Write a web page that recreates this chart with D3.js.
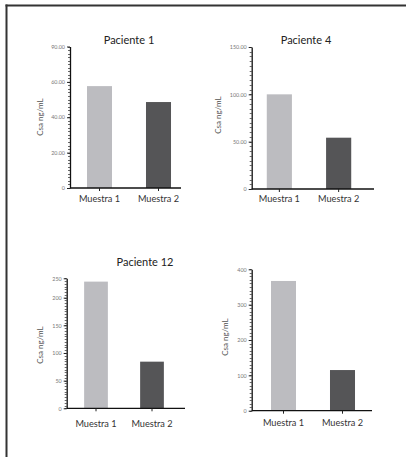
<!DOCTYPE html>
<html><head><meta charset="utf-8">
<script src="https://cdn.jsdelivr.net/npm/d3@7"></script>
<style>html,body{margin:0;padding:0;background:#fff;}svg{display:block;}</style>
</head><body>
<script>
// ---- data ----
const categories = ["Muestra 1", "Muestra 2"];
const titles = ["Paciente 1", "Paciente 4", "Paciente 12", ""];
const yAxisTitle = "Csa ng/mL";
const values1 = [57.6, 48.6];
const values4 = [100, 54.2];
const values12 = [229, 84.3];
const valuesD = [367, 115];
const domainMax = [80, 150, 235, 400];
const ticks1 = [0, 20, 40, 60, 80];
const tickLabels1 = ["0", "20.00", "40.00", "60.00", "90.00"];
const ticks4 = [0, 50, 100, 150];
const tickLabels4 = ["0", "50.00", "100.00", "150.00"];
const ticks12 = [0, 50, 100, 150, 200, 235];
const tickLabels12 = ["0", "50", "100", "150", "200", "250"];
const ticksD = [0, 100, 200, 300, 400];
const tickLabelsD = ["0", "100", "200", "300", "400"];
const minorStep = [2, 5, 5, 10];

const allValues = [values1, values4, values12, valuesD];
const allTicks = [ticks1, ticks4, ticks12, ticksD];
const allTickLabels = [tickLabels1, tickLabels4, tickLabels12, tickLabelsD];

// ---- layout ----
const layout = [
  {ax: 70, y0: 188, yTop: 46.5, xEnd: 181, b0: 70, bw: 118, tx: 129, ty: 40, lx: 40, ly: 117, cy: 198},
  {ax: 251.7, y0: 189, yTop: 47, xEnd: 374, b0: 249.7, bw: 118.6, tx: 306, ty: 40, lx: 218, ly: 115, cy: 198},
  {ax: 66.7, y0: 408.3, yTop: 278.3, xEnd: 185, b0: 68, bw: 112, tx: 145, ty: 262, lx: 40, ly: 345, cy: 423},
  {ax: 251.7, y0: 410.7, yTop: 269.3, xEnd: 372, b0: 254, bw: 118, tx: 0, ty: 0, lx: 225, ly: 337, cy: 422}
];
const colors = ["#bcbcc0", "#555557"];
const font = "Lato, 'Open Sans', 'DejaVu Sans', sans-serif";

const svg = d3.select("body").append("svg").attr("width", 406).attr("height", 457);
svg.append("rect").attr("width", 406).attr("height", 457).attr("fill", "#fff");

// frame
svg.append("line").attr("x1", 5.5).attr("x2", 406).attr("y1", 5.5).attr("y2", 5.5)
  .attr("stroke", "#333").attr("stroke-width", 2);
svg.append("line").attr("x1", 6.5).attr("x2", 6.5).attr("y1", 4.5).attr("y2", 457)
  .attr("stroke", "#333").attr("stroke-width", 2);

layout.forEach((L, i) => {
  const g = svg.append("g");
  const vals = allValues[i];
  const y = d3.scaleLinear().domain([0, domainMax[i]]).range([L.y0, L.yTop]);
  const x = d3.scaleBand().domain(categories).range([L.b0, L.b0 + L.bw])
    .paddingInner(0.576).paddingOuter(0.288);

  // bars
  g.selectAll("rect.bar").data(categories).join("rect")
    .attr("class", "bar")
    .attr("x", d => x(d))
    .attr("width", x.bandwidth())
    .attr("y", (d, j) => y(vals[j]))
    .attr("height", (d, j) => y(0) - y(vals[j]))
    .attr("fill", (d, j) => colors[j]);

  // minor ticks
  const minor = d3.range(0, domainMax[i] + 1e-9, minorStep[i]);
  g.selectAll("line.minor").data(minor).join("line")
    .attr("x1", L.ax - 2).attr("x2", L.ax)
    .attr("y1", d => Math.round(y(d)) + 0.5).attr("y2", d => Math.round(y(d)) + 0.5)
    .attr("stroke", "#444").attr("stroke-width", 0.8);

  // y axis
  const labels = allTickLabels[i];
  const ticks = allTicks[i];
  const yAxis = d3.axisLeft(y).tickValues(ticks)
    .tickFormat((d, k) => labels[k]).tickSize(3).tickSizeOuter(0).tickPadding(2);
  const ya = g.append("g").attr("transform", `translate(${L.ax},0)`).call(yAxis);
  ya.select(".domain").attr("stroke", "#111").attr("stroke-width", 1.3);
  ya.selectAll(".tick line").attr("stroke", "#222").attr("stroke-width", 1);
  ya.selectAll(".tick text").attr("font-family", font).attr("font-size", 5.4)
    .attr("fill", "#777");

  // x axis
  g.append("line").attr("x1", L.ax).attr("x2", L.xEnd).attr("y1", L.y0).attr("y2", L.y0)
    .attr("stroke", "#111").attr("stroke-width", 1.3);
  g.selectAll("line.xt").data(categories).join("line")
    .attr("class", "xt")
    .attr("x1", d => x(d) + x.bandwidth() / 2).attr("x2", d => x(d) + x.bandwidth() / 2)
    .attr("y1", L.y0).attr("y2", L.y0 + 3)
    .attr("stroke", "#222").attr("stroke-width", 1);
  g.selectAll("text.xl").data(categories).join("text")
    .attr("class", "xl")
    .attr("x", d => x(d) + x.bandwidth() / 2)
    .attr("y", L.cy + 3.5)
    .attr("text-anchor", "middle")
    .attr("font-family", font).attr("font-size", 9.2).attr("fill", "#333")
    .text(d => d);

  // y title
  g.append("text")
    .attr("transform", `translate(${L.lx + 2.5},${L.ly}) rotate(-90)`)
    .attr("text-anchor", "middle")
    .attr("font-family", font).attr("font-size", 8).attr("fill", "#555")
    .text(yAxisTitle);

  // chart title
  if (titles[i]) {
    g.append("text").attr("x", L.tx).attr("y", L.ty + 4)
      .attr("text-anchor", "middle")
      .attr("font-family", font).attr("font-size", 11).attr("fill", "#222")
      .text(titles[i]);
  }
});
</script>
</body></html>
